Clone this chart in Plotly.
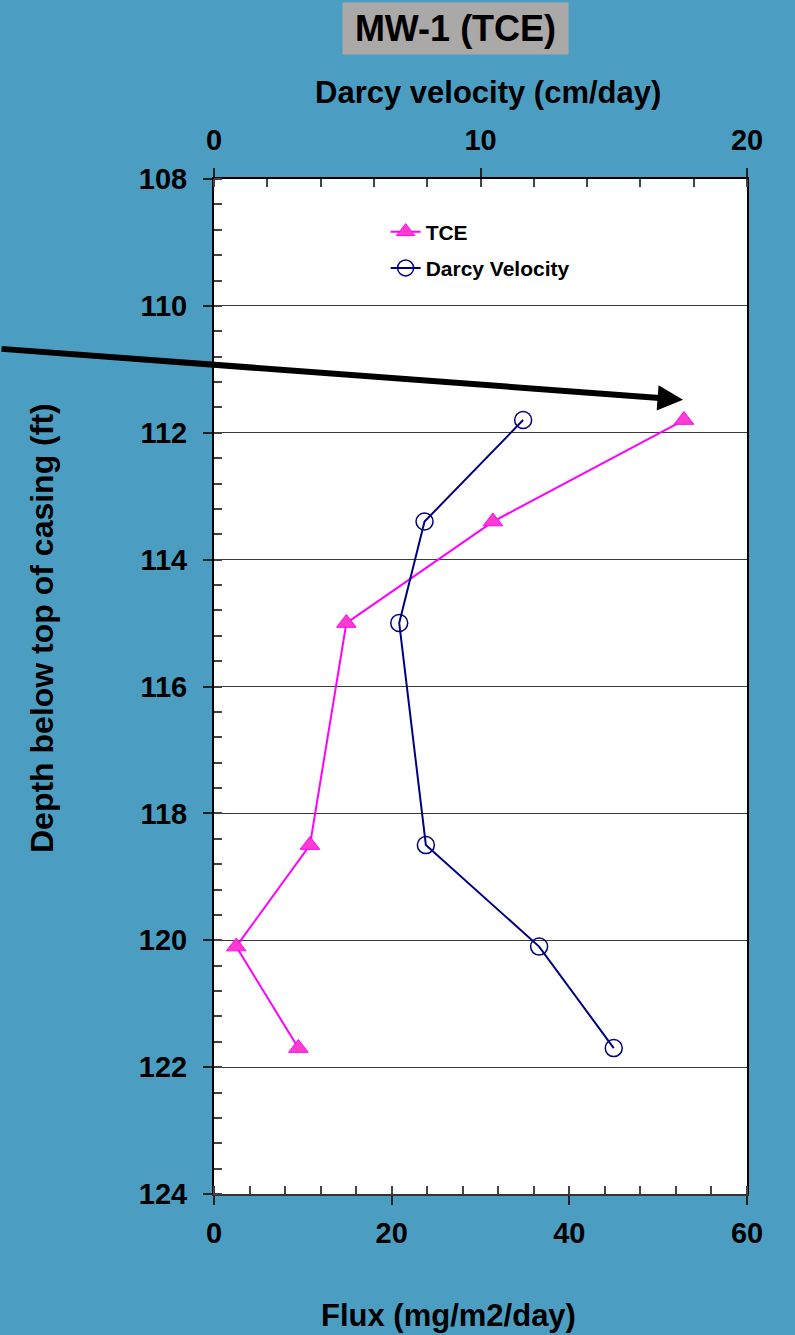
import plotly.graph_objects as go

# Depth profile of TCE flux and Darcy velocity at MW-1
depth_ft = [111.8, 113.4, 115.0, 118.5, 120.1, 121.7]
tce_flux = [52.9, 31.4, 14.9, 10.8, 2.5, 9.5]          # mg/m2/day
darcy_velocity = [11.6, 7.9, 6.95, 7.95, 12.2, 15.0]   # cm/day

flux_ticks = [0, 20, 40, 60]
velocity_ticks = [0, 10, 20]
depth_ticks = [108, 110, 112, 114, 116, 118, 120, 122, 124]

BG = "#4B9EC2"
FONT = "Liberation Sans, Arial, Helvetica, sans-serif"
AXIS_LINE = "#222222"

fig = go.Figure()

fig.add_trace(go.Scatter(
    x=tce_flux, y=depth_ft, name="TCE", mode="lines+markers",
    xaxis="x", yaxis="y", legendgroup="tce",
    line=dict(color="#FF00FF", width=2),
    marker=dict(symbol="triangle-up", size=17, color="#FF3CCF",
                line=dict(color="#FF00FF", width=1)),
))
fig.add_trace(go.Scatter(
    x=darcy_velocity, y=depth_ft, name="Darcy Velocity", mode="lines+markers",
    xaxis="x2", yaxis="y", legendgroup="darcy",
    line=dict(color="#000080", width=2),
    marker=dict(symbol="circle-open", size=17, color="#000080",
                line=dict(color="#000080", width=1.5)),
))

tickfont = dict(family=FONT, size=29, color="black", weight="bold")
titlefont = dict(family=FONT, size=31, color="black", weight="bold")

fig.update_layout(
    width=795, height=1335,
    margin=dict(l=214, r=48, t=179, b=141),
    paper_bgcolor=BG, plot_bgcolor="white",
    font=dict(family=FONT, color="black", weight="bold"),
    showlegend=True,
    legend=dict(
        x=0.322, y=0.968, xanchor="left", yanchor="top",
        bgcolor="rgba(0,0,0,0)", borderwidth=0,
        font=dict(family=FONT, size=21, color="black", weight="bold"),
        tracegroupgap=6, traceorder="grouped",
    ),
    xaxis=dict(
        range=[0, 60], tickvals=flux_ticks, ticktext=[str(v) for v in flux_ticks],
        side="bottom", anchor="y",
        ticks="outside", ticklen=9, tickwidth=1.5, tickcolor=AXIS_LINE,
        minor=dict(tickmode="linear", tick0=0, dtick=4, ticks="inside",
                   ticklen=8, tickwidth=1.5, tickcolor="#444444"),
        showline=True, linecolor="#333333", linewidth=2,
        showgrid=False, zeroline=False,
        tickfont=tickfont, ticklabelstandoff=3,
    ),
    xaxis2=dict(
        range=[0, 20], tickvals=velocity_ticks, ticktext=[str(v) for v in velocity_ticks],
        side="top", overlaying="x", anchor="y",
        ticks="outside", ticklen=9, tickwidth=1.5, tickcolor=AXIS_LINE,
        minor=dict(tickmode="linear", tick0=0, dtick=2, ticks="inside",
                   ticklen=8, tickwidth=1.5, tickcolor="#444444"),
        showline=True, linecolor="black", linewidth=2,
        showgrid=False, zeroline=False,
        tickfont=tickfont, ticklabelstandoff=6,
    ),
    # inner halves of the major ticks on both horizontal axes
    xaxis3=dict(
        range=[0, 60], tickvals=flux_ticks, side="bottom", overlaying="x", anchor="y",
        ticks="inside", ticklen=8, tickwidth=1.5, tickcolor=AXIS_LINE,
        showticklabels=False, showgrid=False, zeroline=False, showline=False,
    ),
    xaxis4=dict(
        range=[0, 20], tickvals=velocity_ticks, side="top", overlaying="x", anchor="y",
        ticks="inside", ticklen=8, tickwidth=1.5, tickcolor=AXIS_LINE,
        showticklabels=False, showgrid=False, zeroline=False, showline=False,
    ),
    yaxis=dict(
        range=[124, 108], tickvals=depth_ticks, ticktext=[str(v) for v in depth_ticks],
        ticks="outside", ticklen=9, tickwidth=1.5, tickcolor=AXIS_LINE,
        minor=dict(tickmode="linear", tick0=108, dtick=0.4, ticks="inside",
                   ticklen=8, tickwidth=1.5, tickcolor="#444444"),
        showline=True, linecolor="black", linewidth=2, mirror=True,
        showgrid=True, gridcolor="#3a3a3a", gridwidth=1, zeroline=False,
        tickfont=tickfont, ticklabelstandoff=10,
    ),
)

# axis titles
fig.add_annotation(
    text="Darcy velocity (cm/day)", xref="paper", yref="paper",
    x=(488 - 214) / 533, y=1 + (179 - 93) / 1015, xanchor="center", yanchor="middle",
    showarrow=False, font=titlefont,
)
fig.add_annotation(
    text="Flux (mg/m2/day)", xref="paper", yref="paper",
    x=(448 - 214) / 533, y=-(1315 - 1194) / 1015, xanchor="center", yanchor="middle",
    showarrow=False, font=titlefont,
)
fig.add_annotation(
    text="Depth below top of casing (ft)", xref="paper", yref="paper",
    x=-(214 - 42) / 533, y=1 - (628 - 179) / 1015, xanchor="center", yanchor="middle",
    textangle=-90, showarrow=False, font=dict(titlefont, size=32),
)

# chart title box
fig.add_annotation(
    text="MW-1 (TCE)", xref="paper", yref="paper",
    x=0.453, y=1.1483, xanchor="center", yanchor="middle",
    showarrow=False, bgcolor="#ABA8A8", width=225, height=51, borderpad=0,
    font=dict(family=FONT, size=36, color="black", weight="bold"),
)

# call-out arrow pointing at the peak TCE flux
fig.add_annotation(
    text="", x=52.8, y=111.48, xref="x", yref="y",
    ax=-700, ay=-51, axref="pixel", ayref="pixel",
    showarrow=True, arrowhead=2, arrowsize=0.85, arrowwidth=6, arrowcolor="black",
    standoff=0,
)

fig.write_html("out.html")
